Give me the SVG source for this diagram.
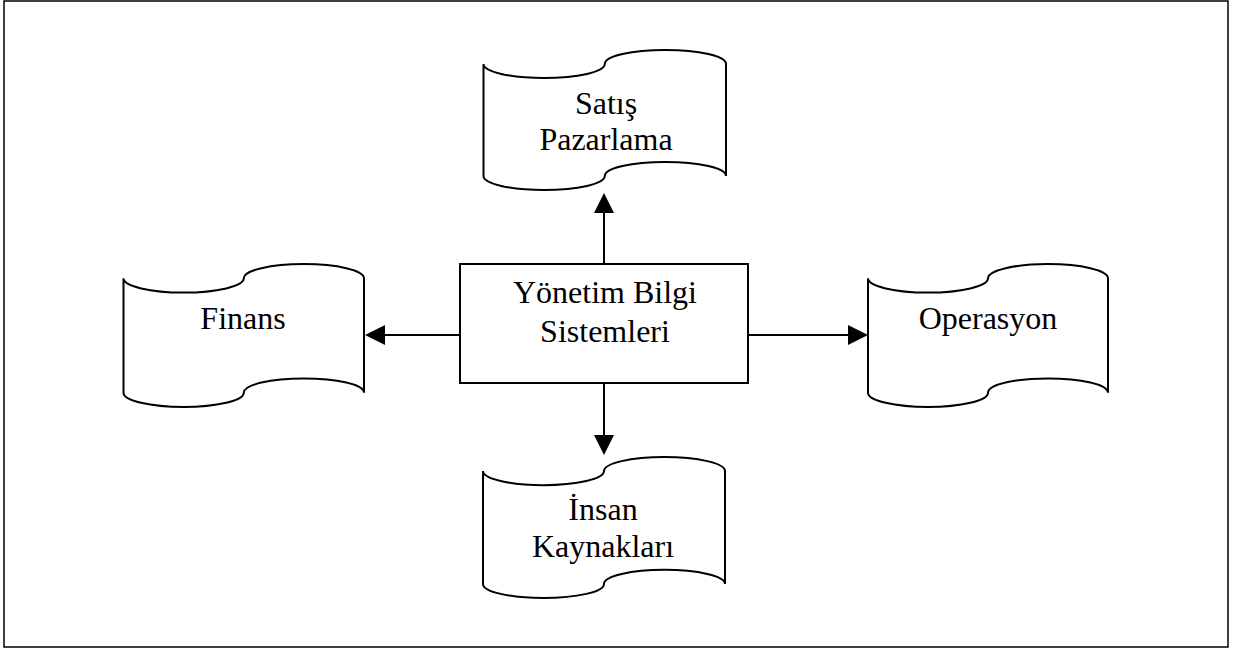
<svg xmlns="http://www.w3.org/2000/svg" width="1241" height="651" viewBox="0 0 1241 651">
  <style>
    .frame { fill: #ffffff; stroke: #000000; stroke-width: 1.5; }
    .shape { fill: #ffffff; stroke: #000000; stroke-width: 2; }
    .link { fill: none; stroke: #000000; stroke-width: 2; marker-end: url(#head); }
    .label { font-family: "Liberation Serif", "Times New Roman", serif; font-size: 32px; fill: #000000; text-anchor: middle; }
  </style>
  <defs>
    <marker id="head" markerUnits="userSpaceOnUse" markerWidth="20" markerHeight="20" viewBox="0 0 20 20" refX="0" refY="10" orient="auto">
      <path d="M0,0 L20,10 L0,20 Z" fill="#000000"/>
    </marker>
  </defs>

  <!-- page frame -->
  <rect class="frame" x="4" y="1" width="1224" height="646"/>

  <!-- connectors from the central box -->
  <g id="connectors">
    <line class="link" x1="604" y1="264" x2="604" y2="213"/>
    <line class="link" x1="604" y1="383" x2="604" y2="435"/>
    <line class="link" x1="460" y1="335" x2="385" y2="335"/>
    <line class="link" x1="748" y1="335" x2="848" y2="335"/>
  </g>

  <g id="node-ybs">
    <rect class="shape" x="460" y="264" width="288" height="119"/>
    <text class="label" x="605" y="303">Yönetim Bilgi</text>
    <text class="label" x="605" y="342">Sistemleri</text>
  </g>

  <!-- punched-tape shapes -->
  <g id="node-satis">
    <path class="shape" d="M483.5,64 A60.6,14 0 0 0 604.75,64 A60.6,14 0 0 1 726,64 L726,176 A60.6,14 0 0 0 604.75,176 A60.6,14 0 0 1 483.5,176 Z"/>
    <text class="label" x="606" y="114">Satış</text>
    <text class="label" x="606" y="150">Pazarlama</text>
  </g>

  <g id="node-finans">
    <path class="shape" d="M123.5,278.3 A60.1,14.3 0 0 0 243.75,278.3 A60.1,14.3 0 0 1 364,278.3 L364,392.7 A60.1,14.3 0 0 0 243.75,392.7 A60.1,14.3 0 0 1 123.5,392.7 Z"/>
    <text class="label" x="243" y="329">Finans</text>
  </g>

  <g id="node-operasyon">
    <path class="shape" d="M868,278.3 A60,14.3 0 0 0 988,278.3 A60,14.3 0 0 1 1108,278.3 L1108,392.7 A60,14.3 0 0 0 988,392.7 A60,14.3 0 0 1 868,392.7 Z"/>
    <text class="label" x="988" y="329">Operasyon</text>
  </g>

  <g id="node-insan">
    <path class="shape" d="M483,471.1 A60.5,14.1 0 0 0 604,471.1 A60.5,14.1 0 0 1 725,471.1 L725,583.9 A60.5,14.1 0 0 0 604,583.9 A60.5,14.1 0 0 1 483,583.9 Z"/>
    <text class="label" x="603" y="520">İnsan</text>
    <text class="label" x="603" y="557">Kaynakları</text>
  </g>
</svg>
